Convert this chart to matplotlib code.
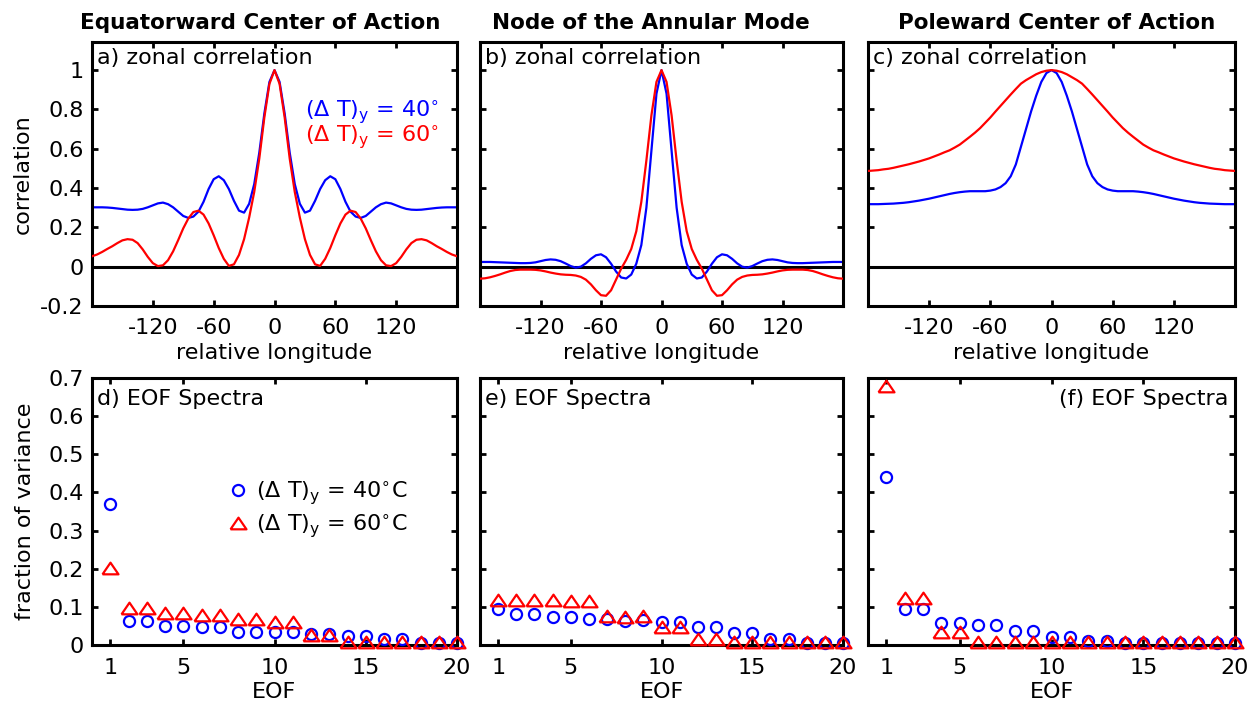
import numpy as np
import matplotlib
matplotlib.use("Agg")
import matplotlib.pyplot as plt

plt.rcParams['font.family'] = ['DejaVu Sans']
plt.rcParams['mathtext.fontset'] = 'dejavusans'
plt.rcParams['axes.unicode_minus'] = False
plt.rcParams['font.size'] = 16

# ---------------- data ----------------
lon = np.arange(-180, 181, 5)

corr_a_40 = [0.302, 0.302, 0.302, 0.301, 0.299, 0.296, 0.293, 0.29, 0.289, 0.29, 0.294, 0.302,
             0.312, 0.322, 0.326, 0.318, 0.302, 0.28, 0.258, 0.248, 0.255, 0.28, 0.33, 0.395,
             0.445, 0.46, 0.44, 0.395, 0.335, 0.285, 0.275, 0.32, 0.42, 0.58, 0.78, 0.94,
             1.0,
             0.94, 0.78, 0.58, 0.42, 0.32, 0.275, 0.285, 0.335, 0.395, 0.44, 0.46, 0.445,
             0.395, 0.33, 0.28, 0.255, 0.248, 0.258, 0.28, 0.302, 0.318, 0.326, 0.322, 0.312,
             0.302, 0.294, 0.29, 0.289, 0.29, 0.293, 0.296, 0.299, 0.301, 0.302, 0.302, 0.302]
corr_a_60 = [0.053, 0.062, 0.075, 0.09, 0.104, 0.12, 0.134, 0.14, 0.137, 0.12, 0.088, 0.05,
             0.018, 0.003, 0.007, 0.033, 0.078, 0.135, 0.195, 0.245, 0.278, 0.285, 0.265, 0.22,
             0.16, 0.095, 0.04, 0.004, 0.012, 0.06, 0.14, 0.25, 0.38, 0.55, 0.76, 0.93,
             1.0,
             0.93, 0.76, 0.55, 0.38, 0.25, 0.14, 0.06, 0.012, 0.004, 0.04, 0.095, 0.16,
             0.22, 0.265, 0.285, 0.278, 0.245, 0.195, 0.135, 0.078, 0.033, 0.007, 0.003, 0.018,
             0.05, 0.088, 0.12, 0.137, 0.14, 0.134, 0.12, 0.104, 0.09, 0.075, 0.062, 0.053]

corr_b_40 = [0.024, 0.024, 0.024, 0.023, 0.022, 0.021, 0.02, 0.019, 0.018, 0.018, 0.019, 0.022,
             0.028, 0.034, 0.037, 0.035, 0.028, 0.016, 0.003, -0.005, 0.0, 0.017, 0.04, 0.058,
             0.063, 0.048, 0.015, -0.025, -0.055, -0.06, -0.04, 0.015, 0.11, 0.30, 0.59, 0.88,
             1.0,
             0.88, 0.59, 0.30, 0.11, 0.015, -0.04, -0.06, -0.055, -0.025, 0.015, 0.048, 0.063,
             0.058, 0.04, 0.017, 0.0, -0.005, 0.003, 0.016, 0.028, 0.035, 0.037, 0.034, 0.028,
             0.022, 0.019, 0.018, 0.018, 0.019, 0.02, 0.021, 0.022, 0.023, 0.024, 0.024, 0.024]
corr_b_60 = [-0.061, -0.059, -0.054, -0.047, -0.039, -0.03, -0.022, -0.017, -0.015, -0.015, -0.015, -0.016,
             -0.019, -0.024, -0.03, -0.035, -0.039, -0.041, -0.042, -0.045, -0.052, -0.066, -0.09, -0.12,
             -0.145, -0.148, -0.12, -0.065, -0.01, 0.035, 0.09, 0.18, 0.33, 0.54, 0.77, 0.94,
             1.0,
             0.94, 0.77, 0.54, 0.33, 0.18, 0.09, 0.035, -0.01, -0.065, -0.12, -0.148, -0.145,
             -0.12, -0.09, -0.066, -0.052, -0.045, -0.042, -0.041, -0.039, -0.035, -0.03, -0.024, -0.019,
             -0.016, -0.015, -0.015, -0.015, -0.017, -0.022, -0.03, -0.039, -0.047, -0.054, -0.059, -0.061]

corr_c_40 = [0.318, 0.318, 0.318, 0.319, 0.32, 0.321, 0.323, 0.325, 0.328, 0.332, 0.336, 0.341,
             0.346, 0.352, 0.358, 0.364, 0.37, 0.375, 0.379, 0.382, 0.384, 0.384, 0.384, 0.384,
             0.387, 0.393, 0.405, 0.425, 0.46, 0.52, 0.61, 0.70, 0.79, 0.87, 0.94, 0.985,
             1.0,
             0.985, 0.94, 0.87, 0.79, 0.70, 0.61, 0.52, 0.46, 0.425, 0.405, 0.393, 0.387,
             0.384, 0.384, 0.384, 0.384, 0.382, 0.379, 0.375, 0.37, 0.364, 0.358, 0.352, 0.346,
             0.341, 0.336, 0.332, 0.328, 0.325, 0.323, 0.321, 0.32, 0.319, 0.318, 0.318, 0.318]
corr_c_60 = [0.487, 0.489, 0.491, 0.495, 0.498, 0.503, 0.509, 0.515, 0.521, 0.528, 0.535, 0.543,
             0.551, 0.561, 0.571, 0.582, 0.592, 0.606, 0.621, 0.641, 0.661, 0.682, 0.705, 0.732,
             0.759, 0.789, 0.818, 0.847, 0.876, 0.904, 0.931, 0.949, 0.964, 0.979, 0.99, 0.997,
             1.0,
             0.997, 0.99, 0.979, 0.964, 0.949, 0.931, 0.904, 0.876, 0.847, 0.818, 0.789, 0.759,
             0.732, 0.705, 0.682, 0.661, 0.641, 0.621, 0.606, 0.592, 0.582, 0.571, 0.561, 0.551,
             0.543, 0.535, 0.528, 0.521, 0.515, 0.509, 0.503, 0.498, 0.495, 0.491, 0.489, 0.487]

eof = np.arange(1, 21)
var_d_40 = [0.369, 0.062, 0.062, 0.051, 0.051, 0.046, 0.046, 0.034, 0.034, 0.035,
            0.035, 0.029, 0.029, 0.024, 0.024, 0.016, 0.016, 0.004, 0.004, 0.004]
var_d_60 = [0.201, 0.096, 0.096, 0.085, 0.085, 0.079, 0.079, 0.067, 0.067, 0.059,
            0.059, 0.026, 0.026, 0.007, 0.007, 0.007, 0.007, 0.007, 0.007, 0.007]
var_e_40 = [0.094, 0.080, 0.080, 0.074, 0.074, 0.067, 0.069, 0.064, 0.065, 0.059,
            0.059, 0.048, 0.048, 0.032, 0.032, 0.017, 0.017, 0.004, 0.004, 0.004]
var_e_60 = [0.118, 0.118, 0.118, 0.118, 0.115, 0.115, 0.075, 0.073, 0.075, 0.048,
            0.048, 0.017, 0.017, 0.007, 0.007, 0.007, 0.007, 0.007, 0.007, 0.007]
var_f_40 = [0.441, 0.095, 0.095, 0.058, 0.058, 0.052, 0.052, 0.037, 0.037, 0.021,
            0.021, 0.011, 0.011, 0.004, 0.004, 0.004, 0.004, 0.004, 0.004, 0.004]
var_f_60 = [0.678, 0.124, 0.124, 0.033, 0.033, 0.009, 0.009, 0.009, 0.009, 0.009,
            0.009, 0.009, 0.009, 0.009, 0.009, 0.009, 0.009, 0.009, 0.009, 0.009]

col_titles = ["Equatorward Center of Action", "Node of the Annular Mode", "Poleward Center of Action"]
top_tags = ["a) zonal correlation", "b) zonal correlation", "c) zonal correlation"]
bot_tags = ["d) EOF Spectra", "e) EOF Spectra", "(f) EOF Spectra"]
lon_ticks = [-120, -60, 0, 60, 120]
corr_ticks = [-0.2, 0, 0.2, 0.4, 0.6, 0.8, 1]
corr_ticklabels = ["-0.2", "0", "0.2", "0.4", "0.6", "0.8", "1"]
eof_ticks = [1, 5, 10, 15, 20]
var_ticks = [0, 0.1, 0.2, 0.3, 0.4, 0.5, 0.6, 0.7]
var_ticklabels = ["0", "0.1", "0.2", "0.3", "0.4", "0.5", "0.6", "0.7"]

BLUE = '#0000ff'
RED = '#ff0000'
TRI = [(-1, -0.73), (1, -0.73), (0, 0.73), (-1, -0.73)]

# ---------------- figure ----------------
W, H = 1258, 705
fig = plt.figure(figsize=(W / 100, H / 100), dpi=100)

def px_axes(x0, x1, y0, y1):
    return fig.add_axes([x0 / W, 1 - y1 / H, (x1 - x0) / W, (y1 - y0) / H])

xs = [(92, 457), (480, 843), (868, 1235)]
top_axes = [px_axes(a, b, 42, 306) for a, b in xs]
bot_axes = [px_axes(a, b, 378, 645) for a, b in xs]

def style(ax):
    for s in ax.spines.values():
        s.set_linewidth(2.2)
    ax.tick_params(direction='in', top=True, right=True, length=4, width=2,
                   labelsize=16)
    ax.tick_params(axis='x', pad=9)
    ax.tick_params(axis='y', pad=6)

top_data = [(corr_a_40, corr_a_60), (corr_b_40, corr_b_60), (corr_c_40, corr_c_60)]
for i, ax in enumerate(top_axes):
    style(ax)
    c40, c60 = top_data[i]
    ax.axhline(0, color='black', lw=2.2, zorder=1)
    ax.plot(lon, c40, color=BLUE, lw=1.6, zorder=2)
    ax.plot(lon, c60, color=RED, lw=1.6, zorder=3)
    ax.set_xlim(-180, 180)
    ax.set_ylim(-0.2, 1.143)
    ax.set_xticks(lon_ticks)
    ax.set_xticklabels([str(t) for t in lon_ticks])
    ax.set_yticks(corr_ticks)
    if i == 0:
        ax.set_yticklabels(corr_ticklabels)
        ax.set_ylabel("correlation")
        ax.yaxis.set_label_coords(-0.162, 0.5)
    else:
        ax.set_yticklabels([])
    ax.set_xlabel("relative longitude", labelpad=3)
    ax.text(0.014, 0.917, top_tags[i], transform=ax.transAxes, va='baseline',
            ha='left', fontsize=16)

top_axes[0].text(0.5836, 0.716, r'$(\Delta\ \mathrm{T})_{\mathrm{y}}$ = 40$^{\circ}$',
                 transform=top_axes[0].transAxes, color=BLUE, va='baseline', ha='left')
top_axes[0].text(0.5836, 0.622, r'$(\Delta\ \mathrm{T})_{\mathrm{y}}$ = 60$^{\circ}$',
                 transform=top_axes[0].transAxes, color=RED, va='baseline', ha='left')

bot_data = [(var_d_40, var_d_60), (var_e_40, var_e_60), (var_f_40, var_f_60)]
for i, ax in enumerate(bot_axes):
    style(ax)
    v40, v60 = bot_data[i]
    h40, = ax.plot(eof, v40, linestyle='none', marker='o', ms=8, mfc='none',
                   mec=BLUE, mew=1.6, clip_on=False, zorder=3,
                   label=r'$(\Delta\ \mathrm{T})_{\mathrm{y}}$ = 40$^{\circ}$C')
    h60, = ax.plot(eof, v60, linestyle='none', marker=TRI, ms=11.5, mfc='none',
                   mec=RED, mew=1.6, clip_on=False, zorder=4,
                   label=r'$(\Delta\ \mathrm{T})_{\mathrm{y}}$ = 60$^{\circ}$C')
    ax.set_xlim(0, 20)
    ax.set_ylim(0, 0.7)
    ax.set_xticks(eof_ticks)
    ax.set_xticklabels([str(t) for t in eof_ticks])
    ax.set_yticks(var_ticks)
    if i == 0:
        ax.set_yticklabels(var_ticklabels)
        ax.set_ylabel("fraction of variance")
        ax.yaxis.set_label_coords(-0.155, 0.5)
        ax.legend(handles=[h40, h60], loc='upper left', bbox_to_anchor=(0.37, 0.621),
                  frameon=False, borderpad=0, borderaxespad=0, handlelength=1.0,
                  handletextpad=0.3, labelspacing=0.25, numpoints=1, fontsize=16)
    else:
        ax.set_yticklabels([])
    ax.set_xlabel("EOF", labelpad=3)
    if i == 2:
        ax.text(0.981, 0.899, bot_tags[i], transform=ax.transAxes, va='baseline',
                ha='right', fontsize=16)
    else:
        ax.text(0.014, 0.899, bot_tags[i], transform=ax.transAxes, va='baseline',
                ha='left', fontsize=16)

title_x = [260, 651, 1057]
for i, t in enumerate(col_titles):
    fig.text(title_x[i] / W, 1 - 29 / H, t, ha='center', va='baseline',
             fontsize=15.5, fontweight='bold')

fig.savefig("out.png", dpi=100)
